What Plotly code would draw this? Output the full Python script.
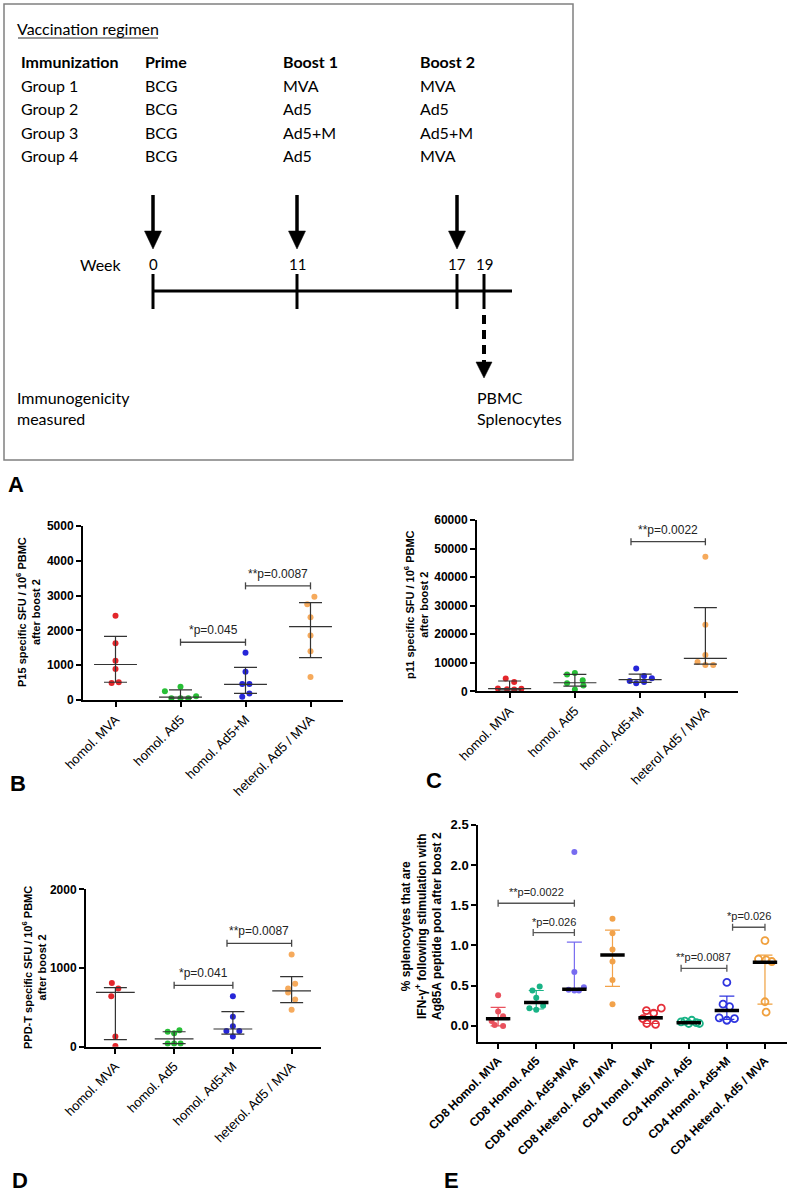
import plotly.graph_objects as go

W, H = 790, 1193


def px(x):
    return x / W


def py(y):
    return 1 - y / H


# ---------------- Panel A : vaccination regimen ----------------
regimen_title = "Vaccination regimen"
regimen_headers = ["Immunization", "Prime", "Boost 1", "Boost 2"]
regimen_groups = ["Group 1", "Group 2", "Group 3", "Group 4"]
regimen_prime = ["BCG", "BCG", "BCG", "BCG"]
regimen_boost1 = ["MVA", "Ad5", "Ad5+M", "Ad5"]
regimen_boost2 = ["MVA", "Ad5", "Ad5+M", "MVA"]
week_labels = ["0", "11", "17", "19"]
measure_left = "Immunogenicity<br>measured"
measure_right = "PBMC<br>Splenocytes"

# ---------------- Panels B-D categories ----------------
cats_pbmc_BD = ["homol. MVA", "homol. Ad5", "homol. Ad5+M", "heterol. Ad5 / MVA"]
cats_pbmc_C = ["homol. MVA", "homol. Ad5", "homol. Ad5+M", "heterol Ad5 / MVA"]

# Panel B: P15 specific SFU / 10^6 PBMC
B_values = [
    [2420, 1630, 1130, 890, 490, 510],
    [250, 380, 50, 50, 50, 110],
    [1360, 810, 460, 460, 190, 90],
    [2970, 2750, 2380, 1850, 1400, 660],
]
B_median = [1020, 80, 450, 2110]
B_q1 = [510, 50, 190, 1220]
B_q3 = [1830, 290, 940, 2800]
B_sig_pairs = [(1, 2), (2, 3)]
B_sig_heights = [1660, 3280]
B_sig_labels = ["*p=0.045", "**p=0.0087"]

# Panel C: p11 specific SFU / 10^6 PBMC
C_values = [
    [4500, 3300, 1000, 700, 600, 900],
    [6400, 5900, 3900, 2800, 2000, 600],
    [8000, 5400, 4600, 3600, 3300, 2800],
    [47100, 23300, 12700, 10300, 9200, 9200],
]
C_median = [950, 3000, 4100, 11500]
C_q1 = [500, 1800, 3100, 9500]
C_q3 = [3600, 5900, 6000, 29300]
C_sig_pairs = [(1.86, 3.0)]
C_sig_heights = [52400]
C_sig_labels = ["**p=0.0022"]

# Panel D: PPD-T specific SFU / 10^6 PBMC
D_values = [
    [810, 740, 640, 130, 10],
    [210, 190, 170, 40, 40, 40],
    [640, 380, 260, 200, 200, 130],
    [1170, 800, 740, 690, 600, 470],
]
D_median = [690, 100, 225, 710]
D_q1 = [90, 40, 160, 560]
D_q3 = [750, 190, 445, 890]
D_sig_pairs = [(1, 2), (1.9, 3)]
D_sig_heights = [780, 1314]
D_sig_labels = ["*p=0.041", "**p=0.0087"]

# Panel E: % splenocytes IFN-g+
E_cats = ["CD8 Homol. MVA", "CD8 Homol. Ad5", "CD8 Homol. Ad5+MVA",
          "CD8 Heterol. Ad5 / MVA", "CD4 homol. MVA", "CD4 Homol. Ad5",
          "CD4 Homol. Ad5+M", "CD4 Heterol. Ad5 / MVA"]
E_values = [
    [0.38, 0.18, 0.12, 0.06, 0.01, 0.0],
    [0.49, 0.44, 0.35, 0.25, 0.22, 0.20],
    [2.16, 0.67, 0.48, 0.45, 0.44, 0.44],
    [1.33, 1.15, 0.95, 0.80, 0.57, 0.27],
    [0.22, 0.19, 0.16, 0.09, 0.03, 0.02],
    [0.07, 0.06, 0.05, 0.04, 0.03, 0.03],
    [0.54, 0.27, 0.24, 0.10, 0.09, 0.07],
    [1.06, 0.83, 0.82, 0.80, 0.30, 0.17],
]
E_median = [0.09, 0.29, 0.455, 0.88, 0.10, 0.04, 0.19, 0.79]
E_q1 = [0.0, 0.21, 0.44, 0.49, 0.03, 0.03, 0.08, 0.27]
E_q3 = [0.23, 0.44, 1.04, 1.19, 0.19, 0.06, 0.37, 0.88]
E_sig_pairs = [(0, 2), (0.92, 2), (4.8, 6), (6.15, 7)]
E_sig_heights = [1.524, 1.16, 0.716, 1.226]
E_sig_labels = ["**p=0.0022", "*p=0.026", "**p=0.0087", "*p=0.026"]

# point jitter (horizontal scatter of dots within each column, category units)
B_jitter = [[0, 0, 0, 0, -0.06, 0.05], [-0.24, 0, -0.14, 0, 0.12, 0.24],
            [0, 0, -0.05, 0.06, 0.06, -0.05], [0.06, -0.05, 0, 0, 0, 0]]
C_jitter = [[-0.06, 0.07, -0.18, -0.04, 0.07, 0.18], [0, -0.12, 0.12, -0.12, 0.13, 0],
            [-0.06, 0.06, 0.18, -0.16, 0.06, -0.06], [0, 0, 0, -0.12, 0, 0.12]]
D_jitter = [[-0.06, 0.05, -0.07, 0, 0], [0.09, -0.11, 0, 0, -0.11, 0.11],
            [0, 0, 0, -0.11, 0.11, 0], [0, 0.06, -0.06, -0.06, 0.06, 0]]
E_jitter = [[0, 0, 0.13, -0.17, -0.09, 0.13], [0.09, -0.1, 0, 0.18, -0.18, 0],
            [0, 0, 0.25, -0.15, 0, 0.12], [0, 0, 0, 0, 0, 0],
            [0.28, -0.11, 0.08, -0.2, -0.1, 0.13], [0.08, -0.1, -0.2, 0.2, 0, 0.28],
            [0, -0.1, 0.07, -0.2, 0.2, 0], [0, -0.17, 0.03, 0.18, 0, 0.03]]

# ---------------- styles ----------------
PBMC_COLORS = ["#e3262b", "#27bf36", "#2626d8", "#f6aa5c"]
E_COLORS = ["#e9525e", "#19b386", "#776cf0", "#f2a24a",
            "#e5303a", "#19b386", "#2f35df", "#f0a03e"]
E_OPEN = [False, False, False, False, True, True, True, True]
ARIAL = "Liberation Sans, Arial, sans-serif"
CALIBRI = "Lato, Carlito, sans-serif"

fig = go.Figure()


def add_panel(xa, ya, values, jitter, med, q1, q3, colors, open_flags=None,
              med_half=0.33, med_color="#333333", med_width=1.2,
              err_colored=False, cap=11.5, msize=6):
    n = len(values)
    for i in range(n):
        op = open_flags[i] if open_flags else False
        xs = [i + j for j in jitter[i]]
        fig.add_trace(go.Scatter(
            x=xs, y=values[i], mode="markers", xaxis=xa, yaxis=ya,
            marker=dict(size=msize + (1 if op else 0),
                        symbol="circle-open" if op else "circle",
                        color=colors[i],
                        line=dict(width=1.8 if op else 0, color=colors[i])),
            showlegend=False, hoverinfo="skip"))
    for i in range(n):
        fig.add_trace(go.Scatter(
            x=[i], y=[med[i]], mode="markers", xaxis=xa, yaxis=ya,
            marker=dict(size=1, color="rgba(0,0,0,0)"),
            error_y=dict(type="data", symmetric=False,
                         array=[q3[i] - med[i]], arrayminus=[med[i] - q1[i]],
                         color=colors[i] if err_colored else "#333333",
                         thickness=1.2, width=cap),
            showlegend=False, hoverinfo="skip"))
    mx, my = [], []
    for i in range(n):
        mx += [i - med_half, i + med_half, None]
        my += [med[i], med[i], None]
    fig.add_trace(go.Scatter(x=mx, y=my, mode="lines", xaxis=xa, yaxis=ya,
                             line=dict(color=med_color, width=med_width),
                             showlegend=False, hoverinfo="skip"))


add_panel("x", "y", B_values, B_jitter, B_median, B_q1, B_q3, PBMC_COLORS)
add_panel("x2", "y2", C_values, C_jitter, C_median, C_q1, C_q3, PBMC_COLORS)
add_panel("x3", "y3", D_values, D_jitter, D_median, D_q1, D_q3, PBMC_COLORS)
add_panel("x4", "y4", E_values, E_jitter, E_median, E_q1, E_q3, E_COLORS,
          open_flags=E_OPEN, med_half=0.32, med_color="black", med_width=3.5,
          err_colored=True, cap=7.5, msize=6)

shapes = []
annotations = []


def sig(xr, yr, pairs, heights, labels, color="#444444", fsize=12):
    for (a, b), h, t in zip(pairs, heights, labels):
        shapes.append(dict(type="line", xref=xr, yref=yr, x0=a, x1=b, y0=h, y1=h,
                           line=dict(color=color, width=1.3)))
        for xe in (a, b):
            shapes.append(dict(type="line", xref=xr, yref=yr, x0=xe, x1=xe,
                               ysizemode="pixel", yanchor=h, y0=-3.5, y1=3.5,
                               line=dict(color=color, width=1.3)))
        annotations.append(dict(xref=xr, yref=yr, x=(a + b) / 2, y=h, text=t,
                                showarrow=False, yanchor="bottom", yshift=3,
                                font=dict(family=ARIAL, size=fsize, color="#222222")))


sig("x", "y", B_sig_pairs, B_sig_heights, B_sig_labels)
sig("x2", "y2", C_sig_pairs, C_sig_heights, C_sig_labels)
sig("x3", "y3", D_sig_pairs, D_sig_heights, D_sig_labels)
sig("x4", "y4", E_sig_pairs, E_sig_heights, E_sig_labels, color="#555555", fsize=11)


def xaxis(x0, x1, y_anchor, rng, ticks, labels, bold=False, size=13):
    return dict(domain=[px(x0), px(x1)], anchor=y_anchor, range=rng, automargin=False,
                tickmode="array", tickvals=ticks, ticktext=labels, tickangle=-45,
                showline=True, linecolor="black", linewidth=2, ticks="outside",
                ticklen=5, tickwidth=2, tickcolor="black", showgrid=False,
                zeroline=False, mirror=False,
                tickfont=dict(family=ARIAL, size=size, color="black",
                              weight="bold" if bold else "normal"))


def yaxis(y_bottom, y_top, x_anchor, rng, dtick, fmt="d", size=12):
    return dict(domain=[py(y_bottom), py(y_top)], anchor=x_anchor, range=rng,
                automargin=False, tickformat=fmt,
                tick0=0, dtick=dtick, showline=True, linecolor="black", linewidth=2,
                ticks="outside", ticklen=5, tickwidth=2, tickcolor="black",
                showgrid=False, zeroline=False,
                tickfont=dict(family=ARIAL, size=size, color="black", weight="bold"))


layout = dict(
    width=W, height=H, margin=dict(l=0, r=0, t=0, b=0, pad=0, autoexpand=False),
    paper_bgcolor="white", plot_bgcolor="white", showlegend=False,
    xaxis=xaxis(83, 343, "y", [-0.5, 3.5], [0, 1, 2, 3], cats_pbmc_BD),
    yaxis=yaxis(700, 526, "x", [0, 5000], 1000),
    xaxis2=xaxis(477, 738, "y2", [-0.5, 3.5], [0, 1, 2, 3], cats_pbmc_C),
    yaxis2=yaxis(691.3, 520, "x2", [0, 60000], 10000),
    xaxis3=xaxis(86, 321, "y3", [-0.5, 3.5], [0, 1, 2, 3], cats_pbmc_BD),
    yaxis3=yaxis(1046.7, 889.3, "x3", [0, 2000], 1000),
    xaxis4=xaxis(478.3, 786.7, "y4", [-0.52, 7.57], list(range(8)), E_cats, bold=True, size=12),
    yaxis4=yaxis(1042, 824.7, "x4", [-0.2, 2.5], 0.5, ".1f", size=13),
)

# y-axis titles
ytitles = [
    ("P15 specific SFU / 10<sup>6</sup> PBMC<br>after boost 2", 28, 612, 11),
    ("p11 specific SFU / 10<sup>6</sup> PBMC<br>after boost 2", 416, 605, 11),
    ("PPD-T specific SFU / 10<sup>6</sup> PBMC<br>after boost 2", 34, 968, 11),
    ("% splenocytes that are<br>IFN-γ<sup>+</sup> following stimulation with<br>Ag85A peptide pool after boost 2", 421, 926, 12),
]
for t, x, y, s in ytitles:
    annotations.append(dict(xref="paper", yref="paper", x=px(x), y=py(y), text=t,
                            textangle=-90, showarrow=False, xanchor="center", yanchor="middle",
                            font=dict(family=ARIAL, size=s, color="black", weight="bold")))

# panel letters
for t, x, y in [("A", 16, 484), ("B", 18, 783), ("C", 434, 780), ("D", 20, 1180), ("E", 451, 1180)]:
    annotations.append(dict(xref="paper", yref="paper", x=px(x), y=py(y), text=t,
                            showarrow=False, xanchor="center", yanchor="middle",
                            font=dict(family=ARIAL, size=22, color="black", weight="bold")))

# ---- Panel A diagram ----
shapes.append(dict(type="rect", xref="paper", yref="paper", x0=px(4), x1=px(573),
                   y0=py(460), y1=py(4), line=dict(color="#808080", width=1.5)))
shapes.append(dict(type="line", xref="paper", yref="paper", x0=px(18), x1=px(158),
                   y0=py(38), y1=py(38), line=dict(color="#333333", width=1)))


def atext(t, x, y, anchor="left", bold=False, size=16):
    annotations.append(dict(xref="paper", yref="paper", x=px(x), y=py(y), text=t,
                            showarrow=False, xanchor=anchor, yanchor="middle", align="left",
                            font=dict(family=CALIBRI, size=size, color="black",
                                      weight="bold" if bold else "normal")))


atext(regimen_title, 15, 29)
col_x = [19, 143, 281, 418]
for h, cx in zip(regimen_headers, col_x):
    atext(h, cx, 62, bold=True)
row_y = [85, 108, 132, 155]
for cols in range(4):
    for r in range(4):
        txt = [regimen_groups, regimen_prime, regimen_boost1, regimen_boost2][cols][r]
        atext(txt, col_x[cols], row_y[r])

atext("Week", 124, 264, anchor="right")
tick_x = [153, 297, 457, 484]
for t, tx in zip(week_labels, tick_x):
    atext(t, tx, 264, anchor="center", size=15)

atext(measure_left, 15, 408)
atext(measure_right, 475, 408)


def path(pts):
    return "M " + " L ".join(f"{px(a)},{py(b)}" for a, b in pts) + " Z"


for ax_ in [153, 297, 457]:
    shapes.append(dict(type="line", xref="paper", yref="paper", x0=px(ax_), x1=px(ax_),
                       y0=py(195), y1=py(234), line=dict(color="black", width=3.5)))
    shapes.append(dict(type="path", xref="paper", yref="paper",
                       path=path([(ax_ - 8.5, 231), (ax_ + 8.5, 231), (ax_, 249)]),
                       fillcolor="black", line=dict(color="black", width=0.5)))

shapes.append(dict(type="line", xref="paper", yref="paper", x0=px(153), x1=px(512),
                   y0=py(291), y1=py(291), line=dict(color="black", width=3)))
for tx in tick_x:
    shapes.append(dict(type="line", xref="paper", yref="paper", x0=px(tx), x1=px(tx),
                       y0=py(274), y1=py(309), line=dict(color="black", width=3)))
shapes.append(dict(type="line", xref="paper", yref="paper", x0=px(484), x1=px(484),
                   y0=py(315), y1=py(363), line=dict(color="black", width=4, dash="9px,6px")))
shapes.append(dict(type="path", xref="paper", yref="paper",
                   path=path([(476, 362), (492, 362), (484, 378)]),
                   fillcolor="black", line=dict(color="black", width=0.5)))

layout["shapes"] = shapes
layout["annotations"] = annotations
fig.update_layout(**layout)
fig.write_html("out.html", config={"displayModeBar": False},
               post_script="document.body.style.margin='0';document.body.style.overflow='hidden';")
